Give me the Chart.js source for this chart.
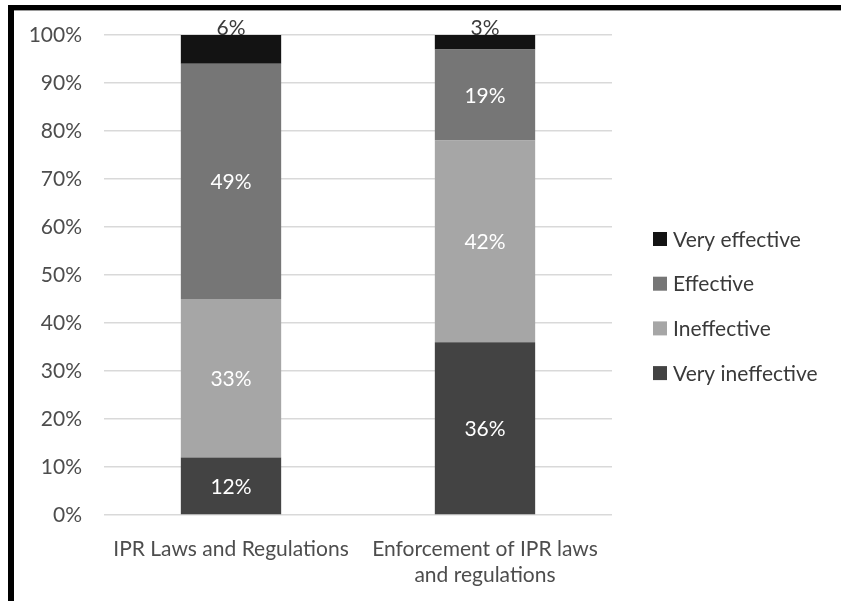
<!DOCTYPE html>
<html lang="en">

<head>
    <meta charset="UTF-8">
    <title>IPR effectiveness</title>
    <style>
        body { margin: 0; background: #fff; }
        #wrap { position: relative; width: 841px; height: 601px; overflow: hidden; }
        #frame {
            position: absolute; left: 8px; top: 5px; width: 833px; height: 596px;
            border-left: 6px solid #000; border-top: 5px solid #000;
            box-shadow: inset 0 1px 0 #9a9a9a; pointer-events: none;
        }
    </style>
</head>

<body>

    <div id="wrap">
        <canvas id="myChart" width="841" height="601"></canvas>
        <div id="frame"></div>
    </div>

    <script src="https://cdn.jsdelivr.net/npm/chart.js"></script>
    <script>
        // categories (multi-line labels as arrays)
        const v_labels = [["IPR Laws and Regulations"], ["Enforcement of IPR laws", "and regulations"]];

        // series, bottom of stack first
        const v_veryIneffective = [12, 36];
        const v_ineffective = [33, 42];
        const v_effective = [49, 19];
        const v_veryEffective = [6, 3];

        const v_seriesNames = ["Very ineffective", "Ineffective", "Effective", "Very effective"];
        const v_colors = ["#434343", "#a6a6a6", "#767676", "#131313"];

        // y axis: 0% .. 100% step 10
        const v_yMin = 0;
        const v_yMax = 100;
        const v_yStep = 10;

        const FONT = "Lato, 'Open Sans', sans-serif";
        const TEXT = "#4d4d4d";

        // values inside the bars
        const labelPlugin = {
            id: "segLabels",
            afterDatasetsDraw(chart) {
                const c = chart.ctx;
                c.save();
                c.font = "21px " + FONT;
                c.textAlign = "center";
                c.textBaseline = "middle";
                chart.data.datasets.forEach((ds, i) => {
                    const meta = chart.getDatasetMeta(i);
                    meta.data.forEach((bar, k) => {
                        const v = ds.data[k];
                        if (v < 10) {
                            c.fillStyle = "#3a3a3a";
                            c.fillText(v + "%", bar.x, bar.y - 7);
                        } else {
                            c.fillStyle = "#ffffff";
                            c.fillText(v + "%", bar.x, (bar.y + bar.base) / 2 + 1);
                        }
                    });
                });
                c.restore();
            }
        };

        // legend on the right, top series first
        const legendPlugin = {
            id: "sideLegend",
            afterDraw(chart) {
                const c = chart.ctx;
                const items = chart.data.datasets.slice().reverse();
                c.save();
                c.font = "21px " + FONT;
                c.textAlign = "left";
                c.textBaseline = "middle";
                items.forEach((ds, i) => {
                    const y = 239 + i * 44.7;
                    c.fillStyle = ds.backgroundColor;
                    c.fillRect(653, y - 7, 14, 14);
                    c.fillStyle = "#3a3a3a";
                    c.fillText(ds.label, 673, y + 1);
                });
                c.restore();
            }
        };

        const v_series = [v_veryIneffective, v_ineffective, v_effective, v_veryEffective];
        let v_datasets = [];
        for (let i = 0; i < v_series.length; i++) {
            v_datasets.push({
                label: v_seriesNames[i],
                data: v_series[i],
                backgroundColor: v_colors[i],
                borderWidth: 0,
                barPercentage: 0.395,
                categoryPercentage: 1
            });
        }

        const ctx = document.querySelector("#myChart");

        new Chart(ctx, {
            type: 'bar',
            data: {
                labels: v_labels,
                datasets: v_datasets
            },
            options: {
                responsive: false,
                animation: false,
                devicePixelRatio: 1,
                layout: {
                    padding: { left: 0, top: 35, right: 229, bottom: 0 }
                },
                plugins: {
                    legend: { display: false },
                    tooltip: { enabled: false }
                },
                scales: {
                    x: {
                        stacked: true,
                        grid: { display: false },
                        border: { display: false },
                        ticks: {
                            color: TEXT,
                            font: { family: FONT, size: 21, lineHeight: 1.25 },
                            padding: 13,
                            maxRotation: 0,
                            autoSkip: false
                        },
                        afterFit(scale) { scale.height = 86; }
                    },
                    y: {
                        stacked: true,
                        min: v_yMin,
                        max: v_yMax,
                        border: { display: false },
                        grid: { color: "#d9d9d9", lineWidth: 1.5, drawTicks: false },
                        ticks: {
                            stepSize: v_yStep,
                            color: TEXT,
                            font: { family: FONT, size: 21 },
                            padding: 22,
                            callback: (v) => v + "%"
                        },
                        afterFit(scale) { scale.width = 104; }
                    }
                }
            },
            plugins: [labelPlugin, legendPlugin]
        });
    </script>

</body>

</html>
